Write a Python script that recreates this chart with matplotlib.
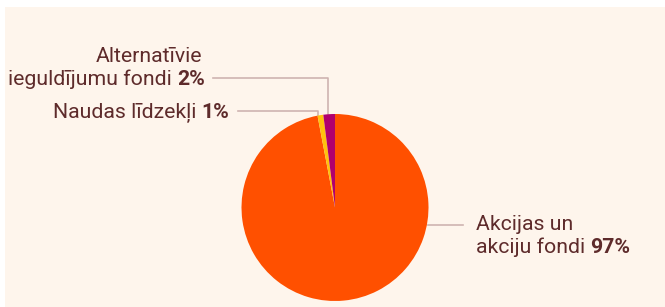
import numpy as np
import matplotlib
matplotlib.use("Agg")
import matplotlib.pyplot as plt
from matplotlib.patches import Rectangle
from matplotlib.lines import Line2D

# data
names = ["Akcijas un\nakciju fondi", "Naudas līdzekļi", "Alternatīvie\nieguldījumu fondi"]
shares = [97, 1, 2]
colors = ["#FF5000", "#FFC20E", "#B0006E"]

W, H = 665, 307
txt_col = "#5E2B2B"
line_col = "#CFB3B0"
fs = 15.3

plt.rcParams['font.family'] = ['Roboto', 'DejaVu Sans']

fig = plt.figure(figsize=(W / 100, H / 100), dpi=100)
fig.patch.set_facecolor("white")

# cream panel
fig.patches.append(Rectangle((5 / W, 0), 1, (H - 7) / H, transform=fig.transFigure,
                             facecolor="#FEF5EC", edgecolor="none", zorder=-5))

# pie axes: centre (335, 207.5) px, radius 93.5 px
cx, cy, r = 335, 207.5, 93.5
ax = fig.add_axes([(cx - r) / W, (H - cy - r) / H, 2 * r / W, 2 * r / H])
ax.set_zorder(2)
ax.patch.set_visible(False)
wedges, _ = ax.pie(shares, colors=colors, startangle=90, counterclock=False,
                   radius=1, center=(0, 0), wedgeprops=dict(linewidth=0))
ax.set_xlim(-1, 1)
ax.set_ylim(-1, 1)
ax.set_aspect("equal")
ax.axis("off")


def px(x, y):
    return x / W, (H - y) / H


def anchor(w):
    a = np.deg2rad((w.theta1 + w.theta2) / 2)
    p = ax.transData.transform((np.cos(a), np.sin(a)))
    return p[0], H - p[1]


def label_line(xr, yb, plain, pct):
    # right-aligned text with bold percentage
    b = fig.text(*px(xr, yb), pct, ha="right", va="baseline", fontsize=fs,
                 color=txt_col, fontweight="bold")
    fig.canvas.draw()
    bw = b.get_window_extent().width
    fig.text(*px(xr - bw, yb), plain, ha="right", va="baseline", fontsize=fs, color=txt_col)


fig.canvas.draw()

# Alternatīvie (index 2)
ax_, ay_ = anchor(wedges[2])
fig.add_artist(Line2D(*zip(px(213, 78), px(ax_ - 1, 78), px(ax_ - 1, ay_)), color=line_col, lw=1.2))
fig.text(*px(202, 62), names[2].split("\n")[0], ha="right", va="baseline", fontsize=fs, color=txt_col)
label_line(205, 85, names[2].split("\n")[1] + " ", f"{shares[2]}%")

# Naudas (index 1)
nx, ny = anchor(wedges[1])
fig.add_artist(Line2D(*zip(px(238, 111), px(nx - 2, 111), px(nx - 2, ny + 2)), color=line_col, lw=1.2))
label_line(229, 118, names[1] + " ", f"{shares[1]}%")

# Akcijas (index 0)
fig.add_artist(Line2D(*zip(px(cx + r - 1, 225), px(463, 225)), color=line_col, lw=1.2))
fig.text(*px(476, 230), names[0].split("\n")[0], ha="left", va="baseline", fontsize=fs, color=txt_col)
a1 = fig.text(*px(476, 253), names[0].split("\n")[1] + " ", ha="left", va="baseline",
              fontsize=fs, color=txt_col)
fig.canvas.draw()
aw = a1.get_window_extent().width
fig.text(*px(476 + aw, 253), f"{shares[0]}%", ha="left", va="baseline", fontsize=fs,
         color=txt_col, fontweight="bold")

fig.savefig("out.png", dpi=100, facecolor=fig.get_facecolor())
